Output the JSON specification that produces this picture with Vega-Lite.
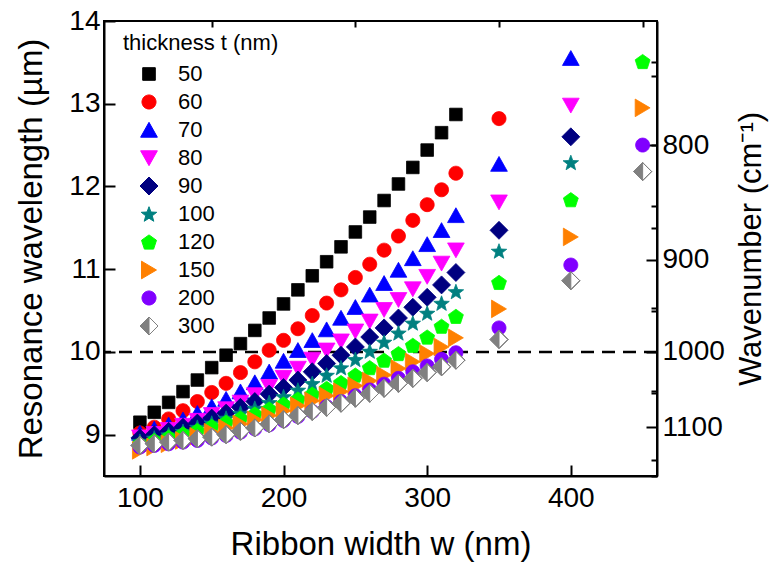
{
  "$schema": "https://vega.github.io/schema/vega-lite/v6.json",
  "width": 553,
  "height": 455,
  "autosize": {"type": "none"},
  "padding": {"left": 104, "top": 21, "right": 112, "bottom": 96},
  "background": "white",
  "config": {
    "view": {"stroke": "black", "strokeWidth": 2},
    "font": "Liberation Sans",
    "axis": {
      "grid": false, "domainColor": "black", "tickColor": "black", "labelColor": "black", "titleColor": "black",
      "domainWidth": 2, "tickWidth": 2, "labelFont": "Liberation Sans", "titleFont": "Liberation Sans",
      "labelFontSize": 28, "titleFontSize": 33, "titleFontWeight": "normal"
    },
    "legend": {"labelFont": "Liberation Sans", "titleFont": "Liberation Sans"}
  },
  "datasets": {
    "pts": [
      {"t":50,"w":100,"l":9.15},{"t":50,"w":110,"l":9.27},{"t":50,"w":120,"l":9.39},{"t":50,"w":130,"l":9.52},{"t":50,"w":140,"l":9.66},{"t":50,"w":150,"l":9.81},{"t":50,"w":160,"l":9.96},{"t":50,"w":170,"l":10.10},{"t":50,"w":180,"l":10.26},{"t":50,"w":190,"l":10.41},{"t":50,"w":200,"l":10.58},{"t":50,"w":210,"l":10.75},{"t":50,"w":220,"l":10.92},{"t":50,"w":230,"l":11.09},{"t":50,"w":240,"l":11.27},{"t":50,"w":250,"l":11.45},{"t":50,"w":260,"l":11.63},{"t":50,"w":270,"l":11.83},{"t":50,"w":280,"l":12.03},{"t":50,"w":290,"l":12.23},{"t":50,"w":300,"l":12.44},{"t":50,"w":310,"l":12.65},{"t":50,"w":320,"l":12.87},
      {"t":60,"w":100,"l":9.02},{"t":60,"w":110,"l":9.09},{"t":60,"w":120,"l":9.19},{"t":60,"w":130,"l":9.29},{"t":60,"w":140,"l":9.40},{"t":60,"w":150,"l":9.51},{"t":60,"w":160,"l":9.62},{"t":60,"w":170,"l":9.75},{"t":60,"w":180,"l":9.88},{"t":60,"w":190,"l":10.02},{"t":60,"w":200,"l":10.14},{"t":60,"w":210,"l":10.28},{"t":60,"w":220,"l":10.44},{"t":60,"w":230,"l":10.59},{"t":60,"w":240,"l":10.75},{"t":60,"w":250,"l":10.90},{"t":60,"w":260,"l":11.06},{"t":60,"w":270,"l":11.23},{"t":60,"w":280,"l":11.40},{"t":60,"w":290,"l":11.59},{"t":60,"w":300,"l":11.78},{"t":60,"w":310,"l":11.96},{"t":60,"w":320,"l":12.16},{"t":60,"w":350,"l":12.82},
      {"t":70,"w":100,"l":9.02},{"t":70,"w":110,"l":9.07},{"t":70,"w":120,"l":9.12},{"t":70,"w":130,"l":9.18},{"t":70,"w":140,"l":9.26},{"t":70,"w":150,"l":9.34},{"t":70,"w":160,"l":9.43},{"t":70,"w":170,"l":9.52},{"t":70,"w":180,"l":9.63},{"t":70,"w":190,"l":9.76},{"t":70,"w":200,"l":9.89},{"t":70,"w":210,"l":10.02},{"t":70,"w":220,"l":10.14},{"t":70,"w":230,"l":10.27},{"t":70,"w":240,"l":10.41},{"t":70,"w":250,"l":10.54},{"t":70,"w":260,"l":10.69},{"t":70,"w":270,"l":10.83},{"t":70,"w":280,"l":10.99},{"t":70,"w":290,"l":11.13},{"t":70,"w":300,"l":11.30},{"t":70,"w":310,"l":11.47},{"t":70,"w":320,"l":11.65},{"t":70,"w":350,"l":12.27},{"t":70,"w":400,"l":13.55},
      {"t":80,"w":100,"l":8.97},{"t":80,"w":110,"l":9.01},{"t":80,"w":120,"l":9.06},{"t":80,"w":130,"l":9.11},{"t":80,"w":140,"l":9.17},{"t":80,"w":150,"l":9.24},{"t":80,"w":160,"l":9.31},{"t":80,"w":170,"l":9.39},{"t":80,"w":180,"l":9.48},{"t":80,"w":190,"l":9.58},{"t":80,"w":200,"l":9.69},{"t":80,"w":210,"l":9.80},{"t":80,"w":220,"l":9.91},{"t":80,"w":230,"l":10.02},{"t":80,"w":240,"l":10.13},{"t":80,"w":250,"l":10.25},{"t":80,"w":260,"l":10.37},{"t":80,"w":270,"l":10.51},{"t":80,"w":280,"l":10.63},{"t":80,"w":290,"l":10.76},{"t":80,"w":300,"l":10.91},{"t":80,"w":310,"l":11.07},{"t":80,"w":320,"l":11.23},{"t":80,"w":350,"l":11.81},{"t":80,"w":400,"l":12.98},
      {"t":90,"w":100,"l":8.96},{"t":90,"w":110,"l":9.00},{"t":90,"w":120,"l":9.04},{"t":90,"w":130,"l":9.09},{"t":90,"w":140,"l":9.14},{"t":90,"w":150,"l":9.20},{"t":90,"w":160,"l":9.26},{"t":90,"w":170,"l":9.33},{"t":90,"w":180,"l":9.40},{"t":90,"w":190,"l":9.49},{"t":90,"w":200,"l":9.57},{"t":90,"w":210,"l":9.66},{"t":90,"w":220,"l":9.76},{"t":90,"w":230,"l":9.86},{"t":90,"w":240,"l":9.96},{"t":90,"w":250,"l":10.06},{"t":90,"w":260,"l":10.18},{"t":90,"w":270,"l":10.29},{"t":90,"w":280,"l":10.41},{"t":90,"w":290,"l":10.54},{"t":90,"w":300,"l":10.66},{"t":90,"w":310,"l":10.81},{"t":90,"w":320,"l":10.96},{"t":90,"w":350,"l":11.47},{"t":90,"w":400,"l":12.60},
      {"t":100,"w":100,"l":8.92},{"t":100,"w":110,"l":8.96},{"t":100,"w":120,"l":9.00},{"t":100,"w":130,"l":9.04},{"t":100,"w":140,"l":9.09},{"t":100,"w":150,"l":9.14},{"t":100,"w":160,"l":9.20},{"t":100,"w":170,"l":9.26},{"t":100,"w":180,"l":9.32},{"t":100,"w":190,"l":9.39},{"t":100,"w":200,"l":9.46},{"t":100,"w":210,"l":9.54},{"t":100,"w":220,"l":9.62},{"t":100,"w":230,"l":9.72},{"t":100,"w":240,"l":9.81},{"t":100,"w":250,"l":9.91},{"t":100,"w":260,"l":10.01},{"t":100,"w":270,"l":10.12},{"t":100,"w":280,"l":10.23},{"t":100,"w":290,"l":10.35},{"t":100,"w":300,"l":10.47},{"t":100,"w":310,"l":10.59},{"t":100,"w":320,"l":10.73},{"t":100,"w":350,"l":11.22},{"t":100,"w":400,"l":12.29},
      {"t":120,"w":100,"l":8.89},{"t":120,"w":110,"l":8.93},{"t":120,"w":120,"l":8.97},{"t":120,"w":130,"l":9.01},{"t":120,"w":140,"l":9.05},{"t":120,"w":150,"l":9.10},{"t":120,"w":160,"l":9.15},{"t":120,"w":170,"l":9.20},{"t":120,"w":180,"l":9.25},{"t":120,"w":190,"l":9.31},{"t":120,"w":200,"l":9.37},{"t":120,"w":210,"l":9.43},{"t":120,"w":220,"l":9.49},{"t":120,"w":230,"l":9.56},{"t":120,"w":240,"l":9.63},{"t":120,"w":250,"l":9.72},{"t":120,"w":260,"l":9.81},{"t":120,"w":270,"l":9.90},{"t":120,"w":280,"l":9.98},{"t":120,"w":290,"l":10.08},{"t":120,"w":300,"l":10.18},{"t":120,"w":310,"l":10.31},{"t":120,"w":320,"l":10.43},{"t":120,"w":350,"l":10.84},{"t":120,"w":400,"l":11.84},{"t":120,"w":450,"l":13.51},
      {"t":150,"w":100,"l":8.81},{"t":150,"w":110,"l":8.85},{"t":150,"w":120,"l":8.89},{"t":150,"w":130,"l":8.93},{"t":150,"w":140,"l":8.98},{"t":150,"w":150,"l":9.03},{"t":150,"w":160,"l":9.08},{"t":150,"w":170,"l":9.13},{"t":150,"w":180,"l":9.18},{"t":150,"w":190,"l":9.23},{"t":150,"w":200,"l":9.29},{"t":150,"w":210,"l":9.35},{"t":150,"w":220,"l":9.41},{"t":150,"w":230,"l":9.47},{"t":150,"w":240,"l":9.52},{"t":150,"w":250,"l":9.59},{"t":150,"w":260,"l":9.65},{"t":150,"w":270,"l":9.72},{"t":150,"w":280,"l":9.80},{"t":150,"w":290,"l":9.88},{"t":150,"w":300,"l":9.98},{"t":150,"w":310,"l":10.06},{"t":150,"w":320,"l":10.17},{"t":150,"w":350,"l":10.52},{"t":150,"w":400,"l":11.39},{"t":150,"w":450,"l":12.95},
      {"t":200,"w":100,"l":8.85},{"t":200,"w":110,"l":8.87},{"t":200,"w":120,"l":8.89},{"t":200,"w":130,"l":8.91},{"t":200,"w":140,"l":8.93},{"t":200,"w":150,"l":8.96},{"t":200,"w":160,"l":8.99},{"t":200,"w":170,"l":9.03},{"t":200,"w":180,"l":9.07},{"t":200,"w":190,"l":9.12},{"t":200,"w":200,"l":9.17},{"t":200,"w":210,"l":9.22},{"t":200,"w":220,"l":9.28},{"t":200,"w":230,"l":9.34},{"t":200,"w":240,"l":9.40},{"t":200,"w":250,"l":9.47},{"t":200,"w":260,"l":9.54},{"t":200,"w":270,"l":9.61},{"t":200,"w":280,"l":9.68},{"t":200,"w":290,"l":9.76},{"t":200,"w":300,"l":9.83},{"t":200,"w":310,"l":9.91},{"t":200,"w":320,"l":9.99},{"t":200,"w":350,"l":10.29},{"t":200,"w":400,"l":11.05},{"t":200,"w":450,"l":12.50},
      {"t":300,"w":100,"l":8.87},{"t":300,"w":110,"l":8.89},{"t":300,"w":120,"l":8.91},{"t":300,"w":130,"l":8.93},{"t":300,"w":140,"l":8.95},{"t":300,"w":150,"l":8.97},{"t":300,"w":160,"l":9.00},{"t":300,"w":170,"l":9.04},{"t":300,"w":180,"l":9.08},{"t":300,"w":190,"l":9.13},{"t":300,"w":200,"l":9.18},{"t":300,"w":210,"l":9.23},{"t":300,"w":220,"l":9.28},{"t":300,"w":230,"l":9.33},{"t":300,"w":240,"l":9.38},{"t":300,"w":250,"l":9.44},{"t":300,"w":260,"l":9.50},{"t":300,"w":270,"l":9.56},{"t":300,"w":280,"l":9.62},{"t":300,"w":290,"l":9.68},{"t":300,"w":300,"l":9.75},{"t":300,"w":310,"l":9.82},{"t":300,"w":320,"l":9.90},{"t":300,"w":350,"l":10.15},{"t":300,"w":400,"l":10.86},{"t":300,"w":450,"l":12.18}
    ]
  },
  "data": {"name": "pts"},
  "resolve": {"axis": {"x": "independent", "y": "independent"}},
  "layer": [
    {
      "data": {"values": [{}]},
      "mark": {"type": "rule", "color": "black", "strokeWidth": 2.5, "strokeDash": [13, 8]},
      "encoding": {
        "y": {"datum": 10, "type": "quantitative", "scale": {"domain": [8.5, 14], "nice": false, "zero": false}, "axis": null}
      }
    },
    {
      "transform": [{"filter": "datum.t != 300"}],
      "mark": {"type": "point", "filled": true, "opacity": 1, "size": 324, "strokeWidth": 0.8},
      "encoding": {
        "x": {"field": "w", "type": "quantitative", "scale": {"domain": [75, 460], "nice": false, "zero": false},
          "axis": {"values": [100, 200, 300, 400], "format": "d", "tickSize": -11, "labelPadding": 19, "title": "Ribbon width w (nm)", "titlePadding": 16}},
        "y": {"field": "l", "type": "quantitative", "scale": {"domain": [8.5, 14], "nice": false, "zero": false},
          "axis": {"values": [9, 10, 11, 12, 13, 14], "format": "d", "tickSize": -11, "labelPadding": 15, "title": "Resonance wavelength (µm)", "titlePadding": 20}},
        "color": {"field": "t", "type": "ordinal",
          "scale": {"domain": [50, 60, 70, 80, 90, 100, 120, 150, 200, 300], "range": ["#000000", "#ff0000", "#0000ff", "#ff00ff", "#000080", "#008080", "#00ff00", "#ff8000", "#8000ff", "#808080"]},
          "legend": {"orient": "none", "legendX": 19, "legendY": 12, "title": "thickness t (nm)", "titleFontSize": 22, "titleFontWeight": "normal", "titleColor": "black", "labelFontSize": 22, "labelColor": "black", "symbolSize": 324, "symbolStrokeWidth": 1, "rowPadding": 6, "labelOffset": 18, "symbolOffset": 15, "padding": 0, "titlePadding": 8}},
        "stroke": {"field": "t", "type": "ordinal",
          "scale": {"domain": [50, 60, 70, 80, 90, 100, 120, 150, 200, 300], "range": ["#000000", "#ff0000", "#0000ff", "#ff00ff", "#000080", "#008080", "#00ff00", "#ff8000", "#8000ff", "#808080"]},
          "legend": {"orient": "none", "legendX": 19, "legendY": 12, "title": "thickness t (nm)"}},
        "shape": {"field": "t", "type": "ordinal",
          "scale": {"domain": [50, 60, 70, 80, 90, 100, 120, 150, 200, 300], "range": [
            "M-0.7,-0.7L0.7,-0.7L0.7,0.7L-0.7,0.7Z",
            "M-0.78,0A0.78,0.78,0,1,0,0.78,0A0.78,0.78,0,1,0,-0.78,0Z",
            "M0,-0.85L0.93,0.8L-0.93,0.8Z",
            "M-0.93,-0.8L0.93,-0.8L0,0.85Z",
            "M0,-1L1,0L0,1L-1,0Z",
            "M0,-0.81L0.22,-0.22L0.86,-0.19L0.36,0.2L0.53,0.81L0,0.47L-0.53,0.81L-0.36,0.2L-0.86,-0.19L-0.22,-0.22Z",
            "M0,-0.79L0.83,-0.19L0.51,0.79L-0.51,0.79L-0.83,-0.19Z",
            "M-0.83,-0.98L0.83,0L-0.83,0.98Z",
            "M-0.78,0A0.78,0.78,0,1,0,0.78,0A0.78,0.78,0,1,0,-0.78,0Z",
            "M0,-1L1,0L0,1L-1,0ZM0,-1L0,1L1,0Z"
          ]},
          "legend": {"orient": "none", "legendX": 19, "legendY": 12, "title": "thickness t (nm)"}}
      }
    },
    {
      "transform": [{"filter": "datum.t == 300"}],
      "mark": {"type": "point", "shape": "M0,-1L1,0L0,1L-1,0Z", "size": 324, "filled": true, "fill": "white", "stroke": "#808080", "strokeWidth": 1, "opacity": 1},
      "encoding": {
        "x": {"field": "w", "type": "quantitative", "scale": {"domain": [75, 460], "nice": false, "zero": false}, "axis": null},
        "y": {"field": "l", "type": "quantitative", "scale": {"domain": [8.5, 14], "nice": false, "zero": false}, "axis": null}
      }
    },
    {
      "transform": [{"filter": "datum.t == 300"}],
      "mark": {"type": "point", "filled": true, "opacity": 1, "size": 324, "strokeWidth": 1},
      "encoding": {
        "x": {"field": "w", "type": "quantitative", "scale": {"domain": [75, 460], "nice": false, "zero": false}, "axis": null},
        "y": {"field": "l", "type": "quantitative", "scale": {"domain": [8.5, 14], "nice": false, "zero": false}, "axis": null},
        "color": {"field": "t", "type": "ordinal", "legend": {"orient": "none", "legendX": 19, "legendY": 12, "title": "thickness t (nm)"}},
        "stroke": {"field": "t", "type": "ordinal", "legend": {"orient": "none", "legendX": 19, "legendY": 12, "title": "thickness t (nm)"}},
        "shape": {"field": "t", "type": "ordinal", "legend": {"orient": "none", "legendX": 19, "legendY": 12, "title": "thickness t (nm)"}}
      }
    },
    {
      "mark": {"type": "point", "opacity": 0},
      "encoding": {
        "x": {"field": "w", "type": "quantitative", "scale": {"domain": [75, 460], "nice": false, "zero": false},
          "axis": {"values": [150, 250, 350, 450], "tickSize": -6, "labels": false, "domain": false, "title": null}},
        "y": {"field": "l", "type": "quantitative", "scale": {"domain": [8.5, 14], "nice": false, "zero": false},
          "axis": {"values": [8.5, 9.5, 10.5, 11.5, 12.5, 13.5], "tickSize": -6, "labels": false, "domain": false, "title": null}}
      }
    },
    {
      "mark": {"type": "point", "opacity": 0},
      "encoding": {
        "x": {"field": "w", "type": "quantitative", "scale": {"domain": [75, 460], "nice": false, "zero": false}, "axis": null},
        "y": {"field": "l", "type": "quantitative", "scale": {"domain": [8.5, 14], "nice": false, "zero": false},
          "axis": {"orient": "right", "values": [12.5, 11.111111, 10, 9.090909], "labelExpr": "'' + round(10000 / datum.value)", "tickSize": -11, "labelPadding": 16, "title": "Wavenumber (cm⁻¹)", "titleFontSize": 31, "titleAngle": 270, "titleBaseline": "top", "titlePadding": 12}}
      }
    },
    {
      "mark": {"type": "point", "opacity": 0},
      "encoding": {
        "x": {"field": "w", "type": "quantitative", "scale": {"domain": [75, 460], "nice": false, "zero": false}, "axis": null},
        "y": {"field": "l", "type": "quantitative", "scale": {"domain": [8.5, 14], "nice": false, "zero": false},
          "axis": {"orient": "right", "values": [13.333333, 11.764706, 10.526316, 9.52381, 8.695652], "tickSize": -6, "labels": false, "domain": false, "title": null}}
      }
    }
  ]
}
